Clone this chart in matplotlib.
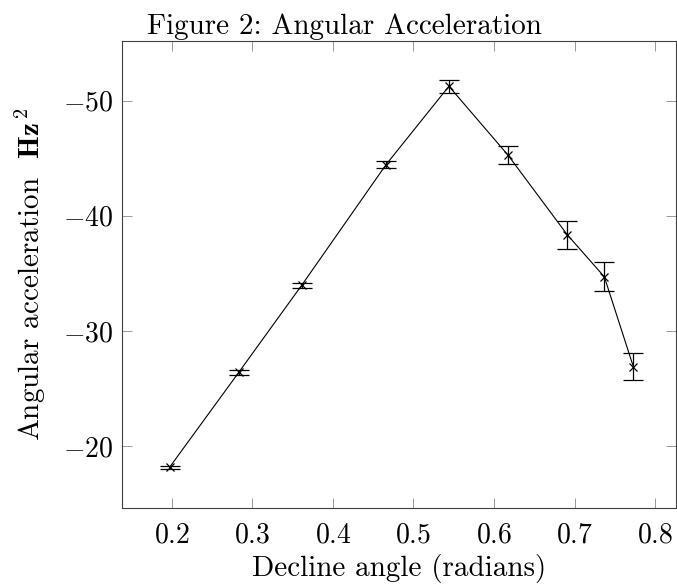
import matplotlib
matplotlib.use("Agg")
import matplotlib.pyplot as plt

plt.rcParams['font.family'] = 'serif'
plt.rcParams['font.serif'] = ['cmr10']
plt.rcParams['mathtext.fontset'] = 'cm'
plt.rcParams['axes.formatter.use_mathtext'] = True

angle = [0.197, 0.283, 0.361, 0.466, 0.544, 0.617, 0.691, 0.737, 0.773]
accel = [-18.15, -26.4, -33.95, -44.45, -51.25, -45.3, -38.35, -34.7, -26.9]
err = [0.15, 0.2, 0.22, 0.3, 0.55, 0.8, 1.2, 1.25, 1.2]

xticks = [0.2, 0.3, 0.4, 0.5, 0.6, 0.7, 0.8]
yticks = [-50, -40, -30, -20]

W, H = 677, 586
fig = plt.figure(figsize=(W / 100, H / 100), dpi=100)
L, R, T, B = 122, 676, 41, 508
ax = fig.add_axes([L / W, 1 - B / H, (R - L) / W, (B - T) / H])

ax.errorbar(angle, accel, yerr=err, color='black', lw=0.8, marker='x',
            markersize=6, mew=0.9, capsize=7.2, capthick=0.9, elinewidth=0.9)

ax.set_xlim(0.138, 0.826)
ax.set_ylim(-14.62, -55.18)
ax.set_xticks(xticks)
ax.set_yticks(yticks)
ax.set_xticklabels([f"${t:.1f}$" for t in xticks])
ax.set_yticklabels([f"$-{abs(t)}$" for t in yticks])
ax.tick_params(direction='in', length=7.5, width=0.7, labelsize=20,
               top=True, right=True, colors='0.6', labelcolor='black')
ax.tick_params(axis='x', pad=10)
ax.tick_params(axis='y', pad=6.5)
for s in ax.spines.values():
    s.set_linewidth(0.8)
    s.set_color('0.25')

fig.text(399 / W, 1 - 576 / H, 'Decline angle (radians)', fontsize=21,
         ha='center', va='baseline')
fig.text(30 / W, 1 - 274 / H, r'Angular acceleration  $\mathbf{Hz}^{\,2}$',
         fontsize=21, rotation=90, ha='center', va='center')
fig.text(344 / W, 1 - 34 / H, 'Figure 2: Angular Acceleration', fontsize=21,
         ha='center', va='baseline')

fig.savefig('out.png', dpi=100)
